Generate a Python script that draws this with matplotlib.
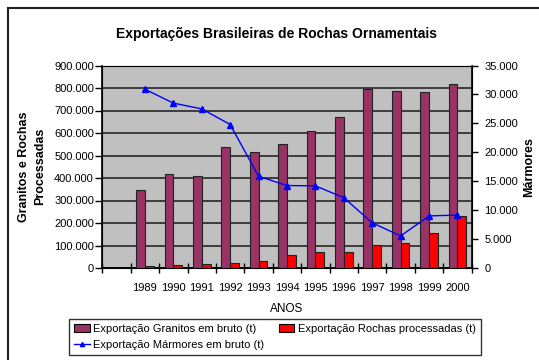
import matplotlib
matplotlib.use("Agg")
import matplotlib.pyplot as plt
from matplotlib.lines import Line2D
from matplotlib.patches import Patch
from matplotlib.ticker import FuncFormatter, MultipleLocator, FixedLocator

plt.rcParams['font.family'] = ['Liberation Sans', 'DejaVu Sans']

# Exportações anuais (t)
anos = ["", "1989", "1990", "1991", "1992", "1993", "1994", "1995", "1996",
        "1997", "1998", "1999", "2000"]
granitos = [None, 346000, 418000, 408000, 539000, 517000, 551000, 607000,
            670000, 795000, 788000, 784000, 816000]
processadas = [None, 10000, 15000, 19000, 22000, 31000, 58000, 70000,
               71000, 101000, 113000, 154000, 231000]
marmores = [None, 30900, 28500, 27500, 24800, 15850, 14250, 14200,
            12150, 7800, 5550, 9000, 9150]

cor_granito = "#993366"
cor_rocha = "#FF0000"
cor_marmore = "#0000FF"


def milhar(v, pos):
    return f"{int(v):,}".replace(",", ".")


fig = plt.figure(figsize=(5.39, 3.60), dpi=100)
ax = fig.add_axes([102.3 / 539, 1 - 268 / 360, (471.7 - 102.3) / 539, (268 - 65.5) / 360])
ax.set_facecolor("#C0C0C0")

x = list(range(len(anos)))
w = 0.31
xs_g = [i - w / 2 for i in x if granitos[i] is not None]
ax.bar(xs_g, [v for v in granitos if v is not None], width=w, color=cor_granito,
       edgecolor="#222222", linewidth=0.8, zorder=3)
xs_r = [i + w / 2 for i in x if processadas[i] is not None]
ax.bar(xs_r, [v for v in processadas if v is not None], width=w, color=cor_rocha,
       edgecolor="#222222", linewidth=0.8, zorder=3)

ax.set_xlim(-0.5, len(anos) - 0.5)
ax.set_ylim(0, 900000)
ax.yaxis.set_major_locator(MultipleLocator(100000))
ax.yaxis.set_major_formatter(FuncFormatter(milhar))
ax.grid(axis="y", color="#333333", linewidth=1.3)
ax.set_axisbelow(True)

# ticks entre categorias, rótulos no centro
ax.xaxis.set_major_locator(FixedLocator([i - 0.5 for i in range(len(anos) + 1)]))
ax.xaxis.set_major_formatter(FuncFormatter(lambda v, p: ""))
ax.xaxis.set_minor_locator(FixedLocator(x))
ax.set_xticklabels(anos, minor=True)
ax.tick_params(axis="x", which="major", direction="inout", length=7, width=1)
ax.tick_params(axis="x", which="minor", length=0, pad=11, labelsize=8)
ax.tick_params(axis="y", direction="out", length=5, width=1, labelsize=8, pad=1)

for s in ["left", "bottom"]:
    ax.spines[s].set_color("black")
    ax.spines[s].set_linewidth(1.2)
ax.spines["top"].set_color("#333333")
ax.spines["right"].set_color("black")

ax.set_ylabel("Granitos e Rochas\nProcessadas", fontsize=9, fontweight="bold",
              labelpad=6, linespacing=1.4)
ax.set_xlabel("ANOS", fontsize=8.5, labelpad=7)

ax2 = ax.twinx()
xs_m = [i for i in x if marmores[i] is not None]
ax2.plot(xs_m, [v for v in marmores if v is not None], color=cor_marmore,
         linewidth=1, marker="^", markersize=4, zorder=4)
ax2.set_ylim(0, 35000)
ax2.yaxis.set_major_locator(MultipleLocator(5000))
ax2.yaxis.set_major_formatter(FuncFormatter(milhar))
ax2.tick_params(axis="y", direction="out", length=4, width=1, labelsize=8, pad=5)
ax2.spines["right"].set_color("black")
ax2.spines["right"].set_linewidth(1.2)
ax2.set_ylabel("Mármores", fontsize=9, fontweight="bold", labelpad=4)

fig.text(276.6 / 539, 1 - 34 / 360, "Exportações Brasileiras de Rochas Ornamentais",
         ha="center", va="center", fontsize=10, fontweight="bold")

handles = [
    Patch(facecolor=cor_granito, edgecolor="black", linewidth=0.8),
    Line2D([], [], color=cor_marmore, linewidth=1, marker="^", markersize=3),
    Patch(facecolor=cor_rocha, edgecolor="black", linewidth=0.8),
]
labels = ["Exportação Granitos em bruto (t)", "Exportação Mármores em bruto (t)",
          "Exportação Rochas processadas (t)"]
leg = fig.legend(handles, labels, loc="upper center", bbox_to_anchor=(275 / 539, 1 - 319 / 360),
                 ncol=2, fontsize=8, frameon=True, fancybox=False, borderpad=0.45,
                 handlelength=1.4, handletextpad=0.3, columnspacing=1.3, labelspacing=0.5,
                 borderaxespad=0)
leg.get_frame().set_edgecolor("black")
leg.get_frame().set_linewidth(1)

# moldura do gráfico
fig.add_artist(Line2D([8 / 539, 1], [1 - 8 / 360, 1 - 8 / 360], color="#222222", linewidth=1.5))
fig.add_artist(Line2D([8 / 539, 8 / 539], [0, 1 - 8 / 360], color="#222222", linewidth=1.5))

fig.savefig("out.png", dpi=100)
